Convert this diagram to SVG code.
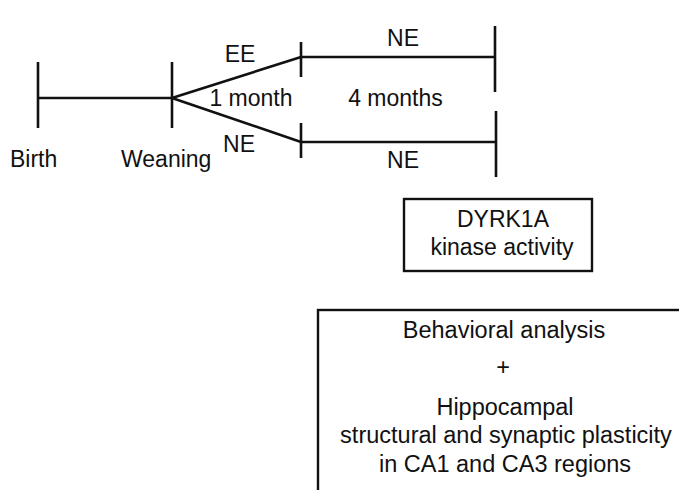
<svg xmlns="http://www.w3.org/2000/svg" width="679" height="490" viewBox="0 0 679 490">
<style>
.ln{stroke:#111;stroke-width:2.6;fill:none;stroke-linecap:butt}
.bx{stroke:#111;stroke-width:2.4;fill:none}
text{font-family:"Liberation Sans",Arial,sans-serif;font-size:23px;fill:#111}
.m{text-anchor:middle}
.b{font-size:23.5px}
</style>
<rect width="679" height="490" fill="#fff"/>
<g id="connectors">
<line class="ln" x1="38" y1="98" x2="172" y2="98"/>
<line class="ln" x1="172" y1="98" x2="301" y2="57"/>
<line class="ln" x1="172" y1="98" x2="301" y2="142"/>
<line class="ln" x1="301" y1="57" x2="495" y2="57"/>
<line class="ln" x1="301" y1="142" x2="496" y2="142"/>
</g>
<g id="birth">
<line class="ln" x1="38" y1="62" x2="38" y2="128"/>
<text x="10" y="167">Birth</text>
</g>
<g id="weaning">
<line class="ln" x1="172" y1="62" x2="172" y2="128"/>
<text x="121" y="167">Weaning</text>
</g>
<g id="ee-1month">
<line class="ln" x1="301" y1="42" x2="301" y2="77"/>
<text class="m" x="240" y="62">EE</text>
<text class="m" x="251" y="106">1 month</text>
</g>
<g id="ne-1month">
<line class="ln" x1="301" y1="123" x2="301" y2="158"/>
<text class="m" x="239" y="152">NE</text>
</g>
<g id="ne-4months-top">
<line class="ln" x1="495" y1="26" x2="495" y2="92"/>
<text class="m" x="403" y="46">NE</text>
<text class="m" x="395.5" y="106">4 months</text>
</g>
<g id="ne-4months-bottom">
<line class="ln" x1="496" y1="111" x2="496" y2="177"/>
<text class="m" x="403" y="168">NE</text>
</g>
<g id="dyrk1a">
<rect class="bx" x="404" y="199" width="188" height="72"/>
<text class="m" x="503" y="227">DYRK1A</text>
<text class="m" x="502" y="255">kinase activity</text>
</g>
<g id="analysis">
<rect class="bx" x="318" y="310" width="380" height="200"/>
<text class="m b" x="504" y="338">Behavioral analysis</text>
<text class="m b" x="503" y="375">+</text>
<text class="m b" x="505" y="415">Hippocampal</text>
<text class="m b" x="506" y="443">structural and synaptic plasticity</text>
<text class="m b" x="505" y="472">in CA1 and CA3 regions</text>
</g>
</svg>
